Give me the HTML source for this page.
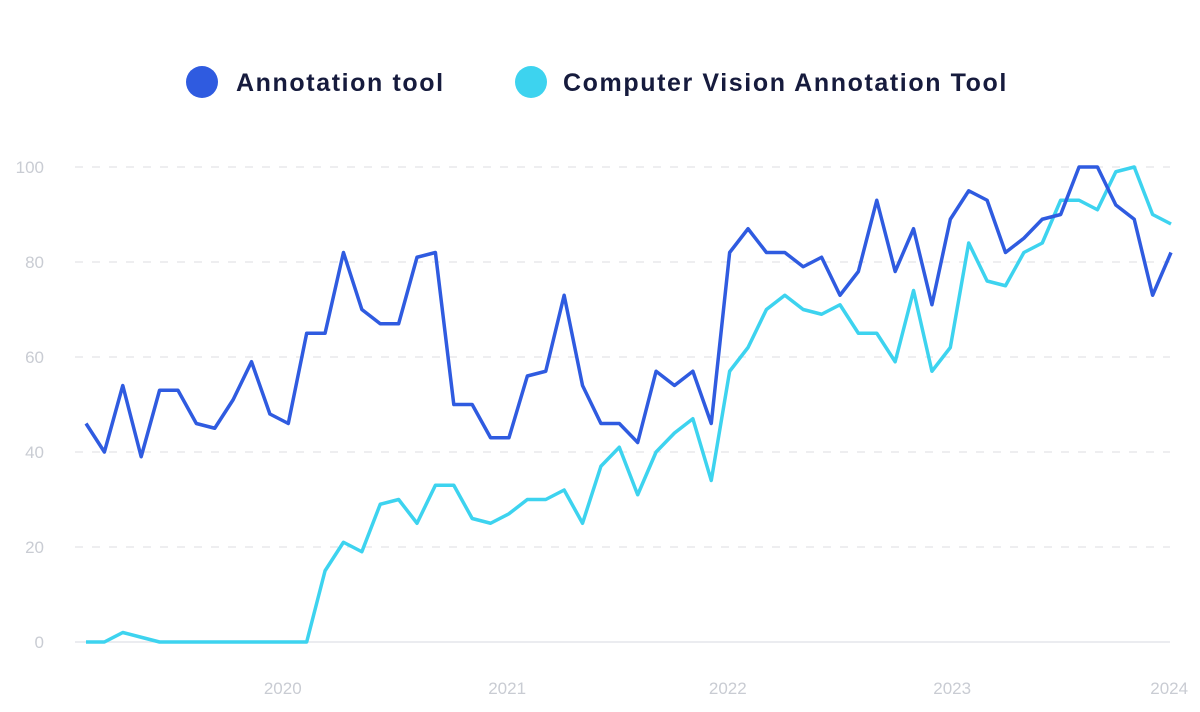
<!DOCTYPE html>
<html><head><meta charset="utf-8"><style>
body{margin:0;background:#fff;}
svg{display:block;font-family:"Liberation Sans",sans-serif;}
</style></head><body>
<svg id="chart" width="1200" height="712">
<g>
<circle cx="202" cy="82" r="16" fill="#2f5be0"/>
<text x="236" y="91" font-size="25" font-weight="bold" letter-spacing="1.6" fill="#161b3d">Annotation tool</text>
<circle cx="531" cy="82" r="16" fill="#3dd3ef"/>
<text x="563" y="91" font-size="25" font-weight="bold" letter-spacing="1.6" fill="#161b3d">Computer Vision Annotation Tool</text>
</g>
<g id="grid"></g><g id="axes"></g><g id="lines"></g>
</svg>
<script>
const seriesA = [46,40,54,39,53,53,46,45,51,59,48,46,65,65,82,70,67,67,81,82,50,50,43,43,56,57,73,54,46,46,42,57,54,57,46,82,87,82,82,79,81,73,78,93,78,87,71,89,95,93,82,85,89,90,100,100,92,89,73,82];
const seriesB = [0,0,2,1,0,0,0,0,0,0,0,0,0,15,21,19,29,30,25,33,33,26,25,27,30,30,32,25,37,41,31,40,44,47,34,57,62,70,73,70,69,71,65,65,59,74,57,62,84,76,75,82,84,93,93,91,99,100,90,88];
const yTicks = [0,20,40,60,80,100];
const xTickLabels = ["2020","2021","2022","2023","2024"];
const xTickIndex = [10.7,22.9,34.9,47.1,58.9];
const NS="http://www.w3.org/2000/svg";
const X=i=>86+i*(1171-86)/59;
const Y=v=>642-v*4.75;
function mk(tag,attrs,parent){const e=document.createElementNS(NS,tag);for(const k in attrs)e.setAttribute(k,attrs[k]);document.getElementById(parent).appendChild(e);return e;}
yTicks.forEach(t=>{
  const l=mk('line',{x1:75,x2:1170,y1:Y(t),y2:Y(t),stroke:t===0?'#dfe1e6':'#e3e4e8','stroke-width':1.2,'stroke-dasharray':t===0?'none':'8 9'},'grid');
  
  
  const tx=mk('text',{x:44,y:Y(t)+6,'font-size':17,fill:'#c9ccd3','text-anchor':'end'},'axes');
  tx.textContent=t;
  
  
});
xTickLabels.forEach((s,k)=>{
  const tx=mk('text',{x:X(xTickIndex[k]),y:694,'font-size':17,fill:'#c9ccd3','text-anchor':'middle'},'axes');
  tx.textContent=s;
  
  
});
function line(data,color,name){
  const p=mk('polyline',{points:data.map((v,i)=>X(i)+','+Y(v)).join(' '),fill:'none',stroke:color,'stroke-width':3.5,'stroke-linejoin':'round'},'lines');
  
  
}
line(seriesB,'#3dd3ef','line-cvat');
line(seriesA,'#2f5be0','line-annotation-tool');
</script>
</body></html>
